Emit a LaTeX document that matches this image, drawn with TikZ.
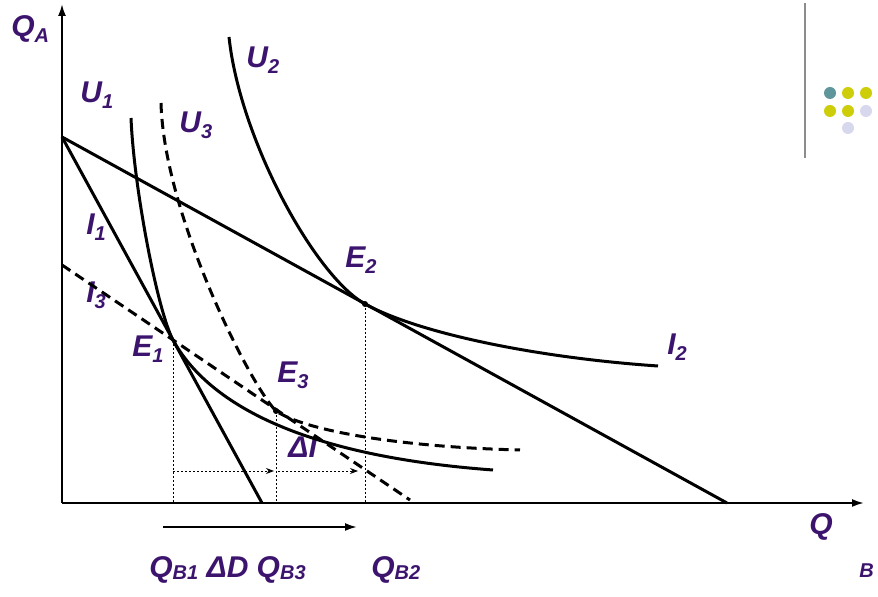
\documentclass[tikz,border=0pt]{standalone}
\usepackage{fontspec}
\setmainfont{Liberation Sans}
\usetikzlibrary{arrows.meta}

\definecolor{labelpurple}{RGB}{60,20,110}
\definecolor{dotteal}{RGB}{95,150,155}
\definecolor{dotyellow}{RGB}{205,205,10}
\definecolor{dotlilac}{RGB}{215,215,238}

% small lowered index in the label font
\newcommand{\idx}[1]{\raisebox{-3pt}{\fontsize{10}{11}\selectfont #1}}
\newcommand{\idxlow}[1]{\raisebox{-1pt}{\fontsize{10}{11}\selectfont #1}}

\begin{document}
\begin{tikzpicture}[
    x=0.5pt, y=-0.5pt,
    font=\fontsize{15}{17}\selectfont\bfseries\itshape,
    axis/.style={line width=1pt, -{Latex[length=6pt,width=4pt]}},
    curve/.style={line width=1.5pt},
    dashcurve/.style={line width=1.5pt, dash pattern=on 5pt off 3pt},
    guide/.style={line width=0.45pt, dash pattern=on 0.8pt off 1.2pt},
    guidearrow/.style={guide, -{Stealth[length=4pt,width=3pt]}},
    lab/.style={text=labelpurple, inner sep=0pt, anchor=base west},
    eqdot/.style={circle, fill=black, inner sep=0pt, minimum size=3pt},
    deco/.style={circle, inner sep=0pt, minimum size=6pt}
]
\useasboundingbox (0,0) rectangle (878,597);

% key points
\coordinate (O) at (62,503);
\coordinate (ytop) at (62,4);
\coordinate (xend) at (864,503);
\coordinate (A) at (62,137);
\coordinate (I1end) at (262,503);
\coordinate (I2end) at (727,503);
\coordinate (I3start) at (62,265);
\coordinate (I3end) at (410,500);
\coordinate (E1) at (173,340);
\coordinate (E2) at (365,304);
\coordinate (E3) at (276,411);

% labels (drawn first, the curves pass over them)
\node[lab] (qa) at (11,37) {Q\idx{A}};
\node[lab] (u1) at (80,103) {U\idx{1}};
\node[lab] (u2) at (246,68) {U\idx{2}};
\node[lab] (u3) at (179,133) {U\idx{3}};
\node[lab] (i1) at (86,235) {I\idx{1}};
\node[lab] (i3) at (86,303) {I\idx{3}};
\node[lab] (i2) at (667,355) {I\idx{2}};
\node[lab] (e1) at (132,357) {E\idx{1}};
\node[lab] (e2) at (345,268) {E\idx{2}};
\node[lab] (e3) at (277,383) {E\idx{3}};
\node[lab] (dI) at (288,458) {ΔI};
\node[lab] (qb) at (809,535) {Q};
\node[lab, font=\fontsize{10}{11}\selectfont\bfseries\itshape] (bb) at (859,578) {B};
\node[lab] (qb13) at (149,578) {Q\idxlow{B1} ΔD Q\idxlow{B3}};
\node[lab] (qb2) at (371,578) {Q\idxlow{B2}};

% axes
\draw[axis] (O) -- (ytop);
\draw[axis] (O) -- (xend);

% budget lines
\draw[curve] (A) -- (I1end);
\draw[curve] (A) -- (I2end);
\draw[dashcurve] (I3start) -- (I3end);

% indifference curves
\draw[curve] (131,118) .. controls (134,190) and (158,312) .. (E1)
    .. controls (205,398) and (290,455) .. (493,470);
\draw[curve] (229,37) .. controls (240,140) and (315,276) .. (E2)
    .. controls (420,334) and (540,358) .. (658,366);
\draw[dashcurve] (161,103) .. controls (164,215) and (250,385) .. (E3)
    .. controls (306,431) and (400,447) .. (520,450);

% guides to the axis
\draw[guide] (E1) -- (E1 |- O);
\draw[guide] (E3) -- (E3 |- O);
\draw[guide] (E2) -- (E2 |- O);
\coordinate (h1) at (173,471);
\coordinate (h2) at (274,471);
\coordinate (h3) at (278,471);
\coordinate (h4) at (358,471);
\draw[guidearrow] (h1) -- (h2);
\draw[guidearrow] (h3) -- (h4);

\node[eqdot] (p2) at (E2) {};
\node[eqdot] (p3) at (E3) {};

% shift of demand
\coordinate (s1) at (163,527);
\coordinate (s2) at (357,527);
\draw[axis] (s1) -- (s2);

% corner decoration
\coordinate (g1) at (805,3);
\coordinate (g2) at (805,158);
\draw[line width=1pt, black!45] (g1) -- (g2);
\node[deco, fill=dotteal] (d11) at (830,93) {};
\node[deco, fill=dotyellow] (d12) at (848,93) {};
\node[deco, fill=dotyellow] (d13) at (866,93) {};
\node[deco, fill=dotyellow] (d21) at (830,111) {};
\node[deco, fill=dotyellow] (d22) at (848,111) {};
\node[deco, fill=dotlilac] (d23) at (866,111) {};
\node[deco, fill=dotlilac] (d32) at (848,128) {};

\end{tikzpicture}
\end{document}
